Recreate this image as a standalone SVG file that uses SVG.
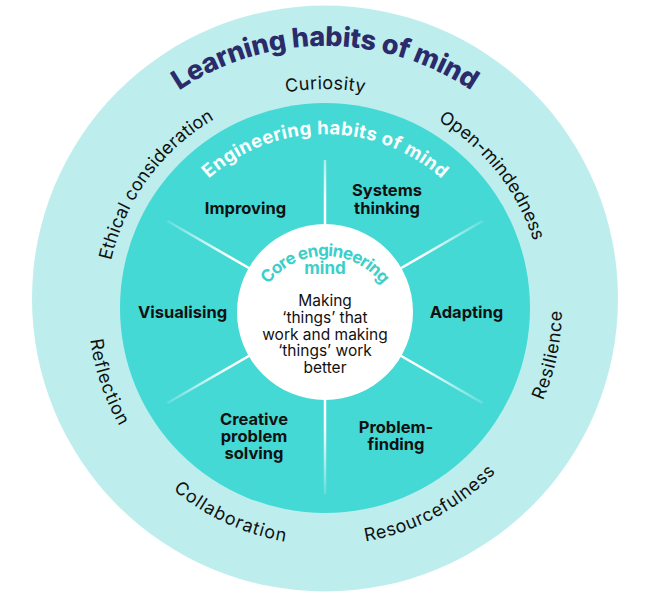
<svg xmlns="http://www.w3.org/2000/svg" width="647" height="597" viewBox="0 0 647 597">
<defs>
<style>
.lbl{font-family:Inter,"Liberation Sans",sans-serif;font-size:18px;fill:#111;}
.eng{font-family:Inter,"Liberation Sans",sans-serif;font-size:16.5px;font-weight:700;fill:#111;text-anchor:middle;}
.inner{font-family:Inter,"Liberation Sans",sans-serif;font-size:15.5px;fill:#111;text-anchor:middle;}
.core{font-family:Inter,"Liberation Sans",sans-serif;font-size:17px;font-weight:700;fill:#3CCFCA;text-anchor:middle;}
.spoke{stroke:url(#spokeFade);stroke-width:2.5;stroke-linecap:butt;fill:none;}
</style>
<radialGradient id="spokeFade" gradientUnits="userSpaceOnUse" cx="325" cy="312" r="186">
<stop offset="0.6" stop-color="#fff" stop-opacity="1"/>
<stop offset="1" stop-color="#fff" stop-opacity="0.1"/>
</radialGradient>
<path id="arcTitle" d="M63,308 A262,262 0 0 1 587,308 A262,262 0 0 1 63,308"/>
<path id="arcTop" d="M106,308 A219,219 0 0 1 544,308 A219,219 0 0 1 106,308"/>
<path id="arcBottom" d="M325,71 A237,237 0 0 0 325,545 A237,237 0 0 0 325,71"/>
<path id="arcEng" d="M151,308 A174,174 0 0 1 499,308 A174,174 0 0 1 151,308"/>
<path id="arcCore" d="M254,327 A71,71 0 0 1 396,327 A71,71 0 0 1 254,327"/>
</defs>

<g id="outer-ring">
<circle cx="325" cy="298.5" r="293" fill="#BDEEED"/>
<text font-family="Inter,'Liberation Sans',sans-serif" font-size="27" font-weight="800" fill="#2B2A6B" text-anchor="middle"><textPath href="#arcTitle" startOffset="411.5" textLength="310" lengthAdjust="spacing">Learning habits of mind</textPath></text>
</g>

<g id="label-ethical"><text class="lbl" text-anchor="middle"><textPath href="#arcTop" startOffset="137.8" textLength="180" lengthAdjust="spacing">Ethical consideration</textPath></text></g>
<g id="label-curiosity"><text class="lbl" text-anchor="middle"><textPath href="#arcTop" startOffset="344" textLength="79" lengthAdjust="spacing">Curiosity</textPath></text></g>
<g id="label-openmind"><text class="lbl" text-anchor="middle"><textPath href="#arcTop" startOffset="541" textLength="157" lengthAdjust="spacing">Open-mindedness</textPath></text></g>
<g id="label-reflection"><text class="lbl" text-anchor="middle"><textPath href="#arcBottom" startOffset="450" textLength="92" lengthAdjust="spacing">Reflection</textPath></text></g>
<g id="label-collaboration"><text class="lbl" text-anchor="middle"><textPath href="#arcBottom" startOffset="641.6" textLength="125" lengthAdjust="spacing">Collaboration</textPath></text></g>
<g id="label-resourcefulness"><text class="lbl" text-anchor="middle"><textPath href="#arcBottom" startOffset="859.8" textLength="150" lengthAdjust="spacing">Resourcefulness</textPath></text></g>
<g id="label-resilience"><text class="lbl" text-anchor="middle"><textPath href="#arcBottom" startOffset="1067" textLength="92" lengthAdjust="spacing">Resilience</textPath></text></g>

<g id="middle-ring">
<circle cx="325" cy="308" r="205" fill="#45D9D5"/>
<text font-family="Inter,'Liberation Sans',sans-serif" font-size="18.5" font-weight="700" fill="#fff" text-anchor="middle"><textPath href="#arcEng" startOffset="273.3" textLength="255" lengthAdjust="spacing">Engineering habits of mind</textPath></text>
</g>

<g id="connectors">
<line class="spoke" x1="325" y1="232" x2="325" y2="160"/>
<line class="spoke" x1="394.3" y1="272" x2="482.6" y2="221"/>
<line class="spoke" x1="394.3" y1="352" x2="482.6" y2="403"/>
<line class="spoke" x1="325" y1="392" x2="325" y2="494"/>
<line class="spoke" x1="255.7" y1="352" x2="167.4" y2="403"/>
<line class="spoke" x1="255.7" y1="272" x2="167.4" y2="221"/>
</g>

<g id="node-systems"><text class="eng" x="387" y="196">Systems</text><text class="eng" x="387" y="214">thinking</text></g>
<g id="node-improving"><text class="eng" x="245.5" y="214">Improving</text></g>
<g id="node-visualising"><text class="eng" x="182.5" y="318">Visualising</text></g>
<g id="node-adapting"><text class="eng" x="466.5" y="318">Adapting</text></g>
<g id="node-creative"><text class="eng" x="254" y="425">Creative</text><text class="eng" x="254" y="442">problem</text><text class="eng" x="254" y="459">solving</text></g>
<g id="node-problem-finding"><text class="eng" x="396" y="433">Problem-</text><text class="eng" x="396" y="450">finding</text></g>

<g id="core">
<circle cx="325" cy="312" r="88" fill="#fff"/>
<text class="core"><textPath href="#arcCore" startOffset="111.5" textLength="132" lengthAdjust="spacing">Core engineering</textPath></text>
<text class="core" x="325" y="274">mind</text>
<text class="inner" x="325" y="306">Making</text>
<text class="inner" x="325" y="322.8">‘things’ that</text>
<text class="inner" x="325" y="339.6">work and making</text>
<text class="inner" x="325" y="356.4">‘things’ work</text>
<text class="inner" x="325" y="373.2">better</text>
</g>
</svg>
